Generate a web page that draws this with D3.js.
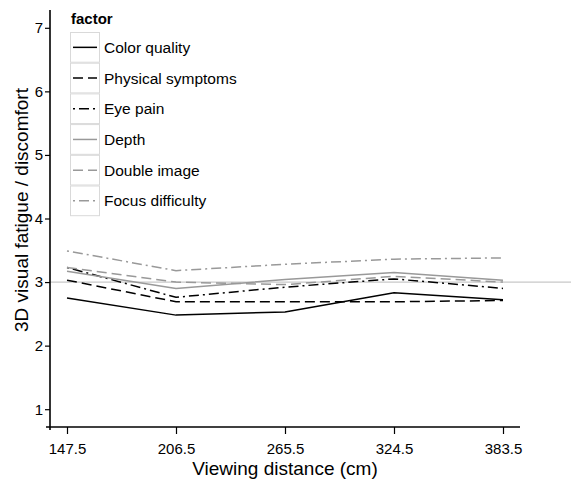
<!DOCTYPE html>
<html><head><meta charset="utf-8">
<script src="https://cdn.jsdelivr.net/npm/d3@7"></script>
<style>body{margin:0;background:#fff}text{font-family:"Liberation Sans",Arial,sans-serif}</style>
</head><body><svg id="c" width="571" height="481"></svg>
<script>
const distances = [147.5, 206.5, 265.5, 324.5, 383.5];
const factors = ["Color quality","Physical symptoms","Eye pain","Depth","Double image","Focus difficulty"];
const colorQuality     = [2.75, 2.48, 2.53, 2.83, 2.72];
const physicalSymptoms = [3.03, 2.69, 2.69, 2.69, 2.71];
const eyePain          = [3.23, 2.76, 2.92, 3.05, 2.90];
const depth            = [3.17, 2.90, 3.04, 3.15, 3.03];
const doubleImage      = [3.23, 3.00, 2.96, 3.09, 3.00];
const focusDifficulty  = [3.49, 3.18, 3.28, 3.36, 3.38];
const yTicks = [1,2,3,4,5,6,7];
const refValue = 3;

const seriesValues = [colorQuality, physicalSymptoms, eyePain, depth, doubleImage, focusDifficulty];
const styles = [
  {stroke:"#000", dash:null},
  {stroke:"#000", dash:"10,5"},
  {stroke:"#000", dash:"2,4,10,4"},
  {stroke:"#999", dash:null},
  {stroke:"#999", dash:"10,5"},
  {stroke:"#999", dash:"2,4,10,4"}
];

const svg = d3.select("#c");
const pL = 50, pR = 520, pT = 10, pB = 427;
const x = d3.scalePoint().domain(distances).range([67, 503]);
const y = d3.scaleLinear().domain([0.72, 7.28]).range([pB, pT]);

// reference line
svg.append("line").attr("x1", pL).attr("x2", 571)
  .attr("y1", y(refValue)).attr("y2", y(refValue))
  .attr("stroke", "#c8c8c8").attr("stroke-width", 1.3);

// lines
const lineGen = d3.line().x((d,i)=>x(distances[i])).y(d=>y(d));
seriesValues.forEach((vals, k) => {
  svg.append("path").attr("d", lineGen(vals)).attr("fill","none")
    .attr("stroke", styles[k].stroke).attr("stroke-width", 1.5)
    .attr("stroke-dasharray", styles[k].dash);
});

// axes
const yAxis = d3.axisLeft(y).tickValues(yTicks).tickSize(5).tickPadding(2).tickFormat(d3.format("d"));
const gy = svg.append("g").attr("transform", `translate(${pL},0)`).call(yAxis);
gy.select(".domain").attr("d", `M0,${pT}V${pB+3}`).attr("stroke-width", 1.6);
gy.selectAll(".tick line").attr("stroke-width", 1.2);
gy.selectAll("text").attr("font-size", 15).attr("fill", "#000");

const xAxis = d3.axisBottom(x).tickSize(7).tickPadding(9);
const gx = svg.append("g").attr("transform", `translate(0,${pB})`).call(xAxis);
gx.select(".domain").attr("d", `M${pL-4},0H${pR}`).attr("stroke-width", 1.6);
gx.selectAll(".tick line").attr("stroke-width", 1.2);
gx.selectAll("text").attr("font-size", 15).attr("fill", "#000");

svg.append("text").attr("x", 285).attr("y", 475).attr("text-anchor","middle")
  .attr("font-size", 19).text("Viewing distance (cm)");
svg.append("text").attr("transform", "translate(28,210) rotate(-90)").attr("text-anchor","middle")
  .attr("font-size", 19).text("3D visual fatigue / discomfort");

// legend
const lg = svg.append("g");
lg.append("text").attr("x", 71).attr("y", 24).attr("font-size", 15).attr("font-weight","bold").text("factor");
const keyH = 30.7, keyTop = 32;
factors.forEach((f, k) => {
  const ky = keyTop + k*keyH;
  lg.append("rect").attr("x", 70.5).attr("y", ky+0.5).attr("width", 29).attr("height", keyH-1)
    .attr("fill","#fff").attr("stroke","#d9d9d9").attr("stroke-width",1);
  lg.append("line").attr("x1", 73).attr("x2", 97).attr("y1", ky+keyH/2).attr("y2", ky+keyH/2)
    .attr("stroke", styles[k].stroke).attr("stroke-width", 1.5)
    .attr("stroke-dasharray", styles[k].dash);
  lg.append("text").attr("x", 104).attr("y", ky+keyH/2+5.5).attr("font-size", 15.5).text(f);
});
</script></body></html>
